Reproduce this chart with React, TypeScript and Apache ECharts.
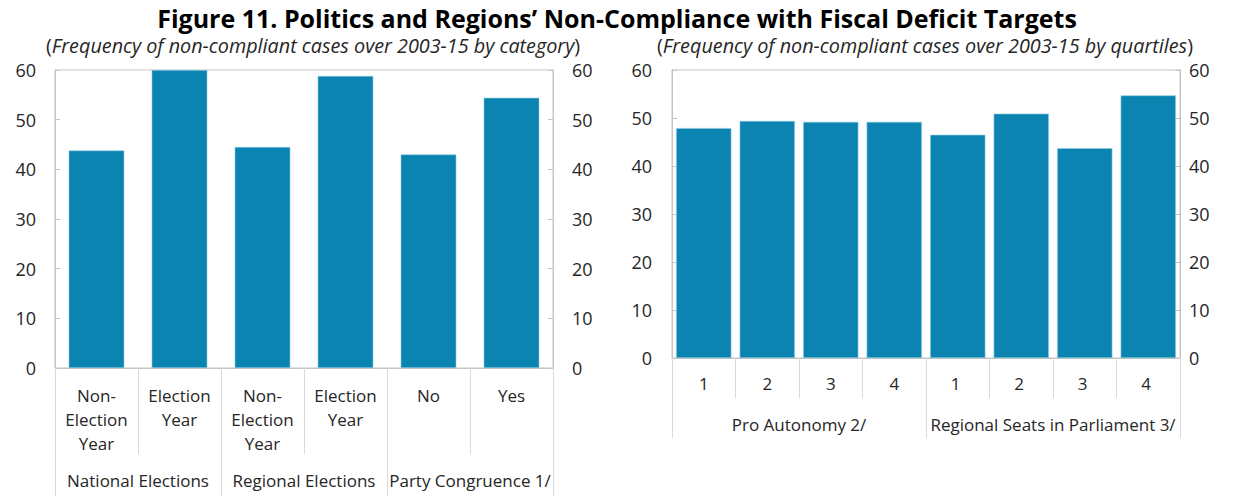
import React, { useEffect, useRef } from "react";
import * as echarts from "echarts";

const titleText = "Figure 11. Politics and Regions\u2019 Non-Compliance with Fiscal Deficit Targets";
const leftSubtitle = "Frequency of non-compliant cases over 2003-15 by category";
const rightSubtitle = "Frequency of non-compliant cases over 2003-15 by quartiles";

const leftCategories = ["Non-\nElection\nYear", "Election\nYear", "Non-\nElection\nYear", "Election\nYear", "No", "Yes"];
const leftGroups = ["National Elections", "Regional Elections", "Party Congruence 1/"];
const leftValues = [43.8, 60, 44.5, 58.8, 43.0, 54.4];

const rightCategories = ["1", "2", "3", "4", "1 ", "2 ", "3 ", "4 "];
const rightGroups = ["Pro Autonomy 2/", "Regional Seats in Parliament 3/"];
const rightValues = [47.9, 49.4, 49.2, 49.2, 46.5, 50.9, 43.7, 54.7];

const yMin = 0;
const yMax = 60;
const yInterval = 10;

const FONT = "'Open Sans', 'Noto Sans', sans-serif";
const BAR = "#0b84b1";
const FRAME = "#c4c4c4";
const SEP = "#dadada";
const TXT = "#262626";

export default function App() {
  const ref = useRef<HTMLDivElement>(null);
  useEffect(() => {
    document.body.style.margin = "0";
    if (!ref.current) return;
    const chart = echarts.init(ref.current, null, { renderer: "svg" });

    const yAxisBase = (gridIndex: number, position: string, margin: number) => ({
      type: "value",
      gridIndex,
      position,
      min: yMin,
      max: yMax,
      interval: yInterval,
      axisLine: { show: true, lineStyle: { color: FRAME } },
      axisTick: { show: true, inside: true, length: 5, lineStyle: { color: FRAME } },
      splitLine: { show: false },
      axisLabel: { color: TXT, fontSize: 18, lineHeight: 16, fontFamily: FONT, margin },
    });

    const sub = (text: string) => ({
      text: "{p|(}{i|" + text + "}{p|)}",
      rich: {
        p: { fontSize: 19.8, lineHeight: 19, fontFamily: FONT, fill: TXT },
        i: { fontSize: 19.8, lineHeight: 19, fontFamily: FONT, fontStyle: "italic", fill: TXT },
      },
    });

    const option: any = {
      animation: false,
      backgroundColor: "#ffffff",
      title: [
        {
          text: titleText,
          left: "center",
          top: 0,
          textStyle: { fontSize: 25, fontWeight: "bold", color: "#000", fontFamily: FONT },
        },
      ],
      graphic: [
        { type: "text", left: 46, top: 35.5, style: sub(leftSubtitle) },
        { type: "text", left: 657, top: 35.5, style: sub(rightSubtitle) },
      ],
      grid: [
        { left: 55, top: 70, width: 498, height: 298, show: true, borderColor: FRAME, borderWidth: 1 },
        { left: 672, top: 70, width: 508, height: 288, show: true, borderColor: FRAME, borderWidth: 1 },
      ],
      xAxis: [
        {
          type: "category",
          gridIndex: 0,
          data: leftCategories,
          axisLine: { show: true, lineStyle: { color: FRAME } },
          axisTick: { show: true, length: 86, interval: 0, lineStyle: { color: SEP } },
          axisLabel: { color: TXT, fontSize: 17, fontFamily: FONT, margin: 15, lineHeight: 24, interval: 0 },
        },
        {
          type: "category",
          gridIndex: 0,
          position: "bottom",
          data: leftGroups,
          axisLine: { show: false },
          axisTick: { show: true, length: 128, interval: 0, lineStyle: { color: SEP } },
          axisLabel: { color: TXT, fontSize: 17, fontFamily: FONT, margin: 104, interval: 0 },
        },
        {
          type: "category",
          gridIndex: 1,
          data: rightCategories,
          axisLine: { show: true, lineStyle: { color: FRAME } },
          axisTick: { show: true, length: 40, interval: 0, lineStyle: { color: SEP } },
          axisLabel: { color: TXT, fontSize: 17, fontFamily: FONT, margin: 17, interval: 0 },
        },
        {
          type: "category",
          gridIndex: 1,
          position: "bottom",
          data: rightGroups,
          axisLine: { show: false },
          axisTick: { show: true, length: 80, interval: 0, lineStyle: { color: SEP } },
          axisLabel: { color: TXT, fontSize: 17, fontFamily: FONT, margin: 58, interval: 0 },
        },
      ],
      yAxis: [
        yAxisBase(0, "left", 19),
        yAxisBase(0, "right", 19),
        yAxisBase(1, "left", 20),
        yAxisBase(1, "right", 9),
      ],
      series: [
        {
          type: "bar",
          xAxisIndex: 0,
          yAxisIndex: 0,
          data: leftValues,
          barCategoryGap: "33%",
          itemStyle: { color: BAR, borderColor: "#8fcbe2", borderWidth: 0.6 },
        },
        {
          type: "bar",
          xAxisIndex: 2,
          yAxisIndex: 2,
          data: rightValues,
          barCategoryGap: "13%",
          itemStyle: { color: BAR, borderColor: "#8fcbe2", borderWidth: 0.6 },
        },
      ],
    };
    chart.setOption(option);
    return () => chart.dispose();
  }, []);
  return <div ref={ref} style={{ width: 1234, height: 496 }} />;
}
